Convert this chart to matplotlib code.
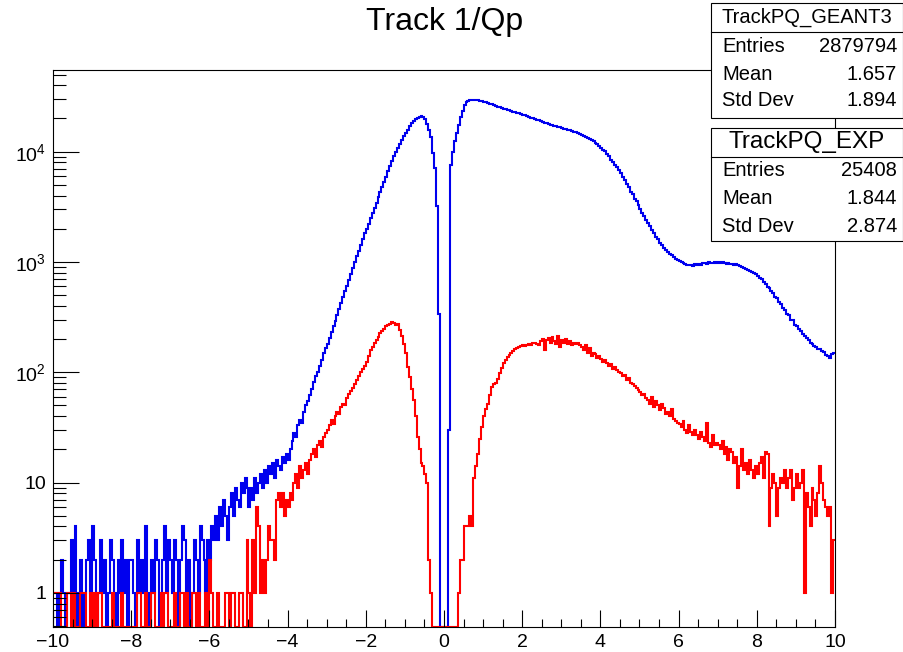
import numpy as np
import matplotlib
matplotlib.use("Agg")
import matplotlib.pyplot as plt
from matplotlib.patches import Rectangle
from matplotlib.lines import Line2D
from matplotlib.ticker import FixedLocator, FixedFormatter, MultipleLocator, LogLocator, NullFormatter

plt.rcParams['font.family'] = ['Liberation Sans', 'DejaVu Sans']
plt.rcParams['mathtext.fontset'] = 'custom'
plt.rcParams['mathtext.rm'] = 'Liberation Sans'
plt.rcParams['mathtext.default'] = 'rm'

# histogram binning: 400 bins on [-10, 10]
x_min, x_max, n_bins = -10, 10, 400

# TrackPQ_GEANT3 (blue), one row = one unit of 1/Qp
geant3 = [
    1, 1, 0, 1, 2, 1, 0, 1, 1, 3, 1, 4, 0, 1, 2, 0, 1, 2, 3, 1,
    4, 2, 0, 1, 3, 1, 2, 0, 1, 3, 2, 1, 0, 2, 1, 3, 1, 2, 0, 2,
    2, 1, 0, 3, 1, 2, 1, 4, 1, 0, 2, 1, 3, 2, 0, 1, 2, 4, 1, 3,
    2, 1, 3, 2, 0, 2, 4, 3, 1, 2, 0, 1, 3, 2, 1, 4, 3, 2, 1, 3,
    2, 4, 3, 5, 3, 6, 4, 7, 5, 3, 6, 8, 5, 9, 7, 6, 10, 8, 11, 9,
    6, 9, 7, 11, 8, 10, 12, 9, 13, 10, 14, 12, 15, 11, 16, 14, 13, 17, 15, 18,
    16, 20, 24, 28, 26, 33, 37, 35, 44, 50, 55, 62, 70, 82, 92, 100, 115, 130, 148, 165,
    180, 203, 230, 260, 293, 331, 374, 423, 478, 540, 610, 690, 780, 880, 995, 1125, 1270, 1435, 1620, 1830,
    2000, 2230, 2490, 2770, 3090, 3450, 3850, 4290, 4780, 5330, 5940, 6620, 7390, 8240, 9180, 10000, 10800, 11800, 12700, 13800,
    14700, 15800, 17000, 18100, 19000, 19800, 20400, 20800, 20900, 20600, 19800, 17800, 15800, 13500, 9800, 7100, 3200, 338, 0, 0,
    0, 0, 30, 7600, 10000, 12500, 14800, 17500, 20800, 23500, 26500, 28000, 28800, 29300, 29500, 29500, 29300, 29100, 28900, 28700,
    28400, 28000, 27600, 27200, 26800, 26400, 26000, 25600, 25200, 24800, 24500, 24200, 24000, 23700, 23400, 23100, 22800, 22500, 22200, 21900,
    21600, 21300, 21000, 20700, 20400, 20100, 19800, 19500, 19200, 18900, 18600, 18300, 18100, 17800, 17600, 17400, 17200, 17000, 16800, 16600,
    16400, 16200, 16000, 15800, 15600, 15400, 15200, 15000, 14800, 14600, 14300, 14000, 13700, 13400, 13100, 12800, 12500, 12100, 11700, 11300,
    10900, 10400, 10050, 9450, 9050, 8450, 8050, 7550, 7250, 6750, 6350, 5850, 5550, 5050, 4800, 4350, 4150, 3750, 3600, 3250,
    3050, 2800, 2600, 2400, 2250, 2100, 1950, 1820, 1700, 1600, 1500, 1420, 1350, 1290, 1240, 1190, 1150, 1110, 1070, 1040,
    1010, 990, 970, 955, 945, 930, 940, 925, 950, 935, 960, 945, 970, 980, 960, 990, 975, 985, 1000, 970,
    990, 975, 1000, 985, 960, 970, 955, 965, 940, 950, 930, 915, 900, 885, 870, 850, 830, 810, 790, 770,
    750, 715, 695, 655, 635, 595, 580, 545, 525, 485, 470, 435, 420, 385, 370, 340, 330, 300, 295, 270,
    262, 245, 238, 224, 215, 203, 198, 186, 181, 172, 170, 163, 164, 155, 153, 144, 140, 134, 146, 151,
]

# TrackPQ_EXP (red)
exp_data = [
    1, 1, 1, 1, 0, 0, 0, 1, 1, 0, 1, 0, 0, 0, 1, 1, 1, 0, 0, 1,
    0, 1, 0, 1, 1, 0, 0, 0, 0, 0, 1, 0, 0, 0, 0, 1, 0, 0, 0, 0,
    0, 0, 0, 1, 1, 0, 0, 1, 0, 0, 1, 1, 0, 0, 0, 1, 0, 1, 1, 0,
    0, 0, 1, 0, 0, 1, 1, 0, 1, 0, 0, 1, 1, 0, 1, 0, 0, 0, 1, 0,
    2, 1, 0, 0, 1, 0, 0, 0, 1, 1, 0, 1, 1, 0, 0, 1, 1, 0, 0, 3,
    1, 0, 3, 1, 6, 4, 1, 2, 1, 2, 4, 3, 3, 2, 7, 8, 6, 8, 5, 7,
    6, 8, 7, 10, 12, 9, 14, 11, 13, 15, 12, 16, 18, 20, 17, 22, 24, 21, 26, 28,
    30, 33, 37, 34, 40, 44, 42, 48, 52, 50, 58, 63, 68, 72, 78, 85, 92, 100, 108, 115,
    125, 140, 160, 170, 185, 195, 210, 225, 235, 245, 260, 270, 275, 285, 280, 270, 275, 240, 215, 180,
    150, 112, 90, 70, 56, 40, 26, 20, 15, 14, 12, 10, 2, 1, 0, 0, 0, 0, 0, 0,
    0, 0, 0, 0, 0, 0, 0, 1, 2, 2, 4, 4, 4, 5, 4, 11, 14, 18, 25, 32,
    40, 46, 52, 62, 74, 78, 80, 86, 98, 110, 121, 130, 138, 144, 150, 156, 162, 166, 170, 172,
    175, 172, 178, 180, 176, 183, 185, 180, 178, 190, 200, 160, 195, 205, 185, 210, 190, 180, 215, 170,
    195, 185, 200, 180, 190, 175, 185, 180, 183, 178, 170, 160, 175, 150, 165, 140, 150, 145, 135, 140,
    132, 125, 128, 121, 115, 118, 108, 112, 105, 100, 98, 92, 95, 85, 88, 80, 78, 75, 72, 69,
    66, 62, 64, 58, 56, 52, 60, 48, 55, 50, 45, 52, 47, 42, 44, 40, 46, 38, 36, 35,
    34, 32, 36, 30, 28, 33, 29, 27, 30, 27, 25, 29, 26, 24, 35, 23, 21, 27, 22, 23,
    22, 20, 24, 18, 21, 16, 20, 19, 15, 17, 9, 14, 20, 13, 15, 12, 16, 13, 11, 14,
    12, 15, 17, 11, 19, 18, 4, 9, 12, 10, 5, 9, 11, 10, 13, 9, 11, 13, 7, 9,
    12, 9, 10, 13, 1, 8, 6, 4, 9, 7, 5, 8, 14, 10, 7, 6, 5, 6, 1, 3,
]

x_ticks = [-10, -8, -6, -4, -2, 0, 2, 4, 6, 8, 10]
y_ticks = [1, 10, 100, 1000, 10000]
y_tick_labels = ['1', '10', r'$10^{2}$', r'$10^{3}$', r'$10^{4}$']

title = "Track 1/Qp"
geant3_name = "TrackPQ_GEANT3"
geant3_stats = [("Entries", "2879794"), ("Mean", "1.657"), ("Std Dev", "1.894")]
exp_name = "TrackPQ_EXP"
exp_stats = [("Entries", "25408"), ("Mean", "1.844"), ("Std Dev", "2.874")]

W, H = 904, 652
fig = plt.figure(figsize=(W / 100, H / 100), dpi=100)
fig.patch.set_facecolor('white')

def fx(px):
    return px / W

def fy(py):
    return 1 - py / H

ax = fig.add_axes([fx(53), fy(627), (835 - 53) / W, (627 - 70) / H])

edges = np.linspace(x_min, x_max, n_bins + 1)
y_lo, y_hi = 0.49, 5.5e4

ax.stairs(np.maximum(np.array(geant3, float), y_lo), edges, baseline=None,
          color='#0000ee', lw=1.5)
ax.stairs(np.maximum(np.array(exp_data, float), y_lo), edges, baseline=None,
          color='#ff0000', lw=1.5)

ax.set_yscale('log')
ax.set_xlim(x_min, x_max)
ax.set_ylim(y_lo, y_hi)

ax.xaxis.set_major_locator(FixedLocator(x_ticks))
ax.xaxis.set_minor_locator(MultipleLocator(0.5))
ax.yaxis.set_major_locator(FixedLocator(y_ticks))
ax.yaxis.set_major_formatter(FixedFormatter(y_tick_labels))
ax.yaxis.set_minor_locator(LogLocator(base=10, subs=np.arange(2, 10)))
ax.yaxis.set_minor_formatter(NullFormatter())

ax.tick_params(axis='both', which='both', direction='in', width=0.8, color='black',
               top=False, right=False, labelsize=14)
ax.tick_params(axis='x', which='major', length=12, pad=5)
ax.tick_params(axis='x', which='minor', length=6)
ax.tick_params(axis='y', which='major', length=19, pad=5)
ax.tick_params(axis='y', which='minor', length=9.5)
for s in ax.spines.values():
    s.set_linewidth(0.8)

fig.text(fx(445), fy(22), title, ha='center', va='center', fontsize=23)


def stats_box(top, sep, bottom, name, name_size, rows, title_y, row_ys):
    left, right = 711, 903
    fig.add_artist(Rectangle((fx(left), fy(bottom)), (right - left) / W, (bottom - top) / H,
                             transform=fig.transFigure, facecolor='white',
                             edgecolor='black', lw=0.8, zorder=5))
    fig.add_artist(Line2D([fx(left), fx(right)], [fy(sep), fy(sep)],
                          transform=fig.transFigure, color='black', lw=0.8, zorder=6))
    fig.text(fx((left + right) / 2), fy(title_y), name, ha='center', va='center',
             fontsize=name_size, zorder=7)
    for (label, value), yy in zip(rows, row_ys):
        fig.text(fx(722), fy(yy), label, ha='left', va='center', fontsize=14.5, zorder=7)
        fig.text(fx(897), fy(yy), value, ha='right', va='center', fontsize=14.5, zorder=7)


stats_box(3, 32, 118, geant3_name, 14.5, geant3_stats, 17, [47, 74, 101])
stats_box(128, 157, 241, exp_name, 17.5, exp_stats, 142, [171, 198, 226])

fig.savefig("out.png", dpi=100)
